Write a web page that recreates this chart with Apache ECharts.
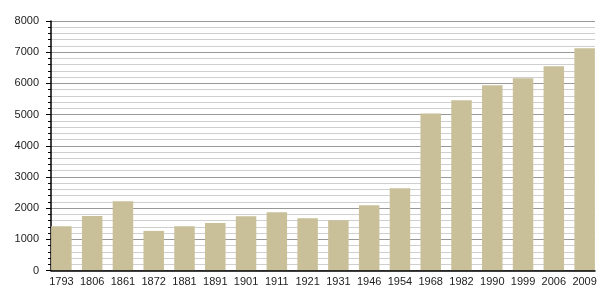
<!DOCTYPE html>
<html>
<head>
<meta charset="utf-8">
<script src="https://cdn.jsdelivr.net/npm/echarts@6/dist/echarts.min.js"></script>
<style>html,body{margin:0;padding:0;background:#fff}#c{width:605px;height:300px}</style>
</head>
<body>
<div id="c"></div>
<script>
var categories = ['1793','1806','1861','1872','1881','1891','1901','1911','1921','1931','1946','1954','1968','1982','1990','1999','2006','2009'];
var population = [1420,1750,2220,1270,1420,1526,1740,1869,1676,1612,2093,2638,5032,5458,5939,6163,6548,7125];
var yTicks = [0,1000,2000,3000,4000,5000,6000,7000,8000];

var chart = echarts.init(document.getElementById('c'));
var font = 'Liberation Sans, Arial, sans-serif';
chart.setOption({
  animation: false,
  grid: [
    {left: 46, right: 5, top: 21, height: 249.5},
    {left: 51, right: 10, top: 21, height: 249.5}
  ],
  xAxis: [
    {type: 'category', gridIndex: 0, data: categories, boundaryGap: true,
     axisLine: {show: false}, axisTick: {show: false},
     axisLabel: {color: '#222', fontSize: 11, fontFamily: font, margin: 6, interval: 0}},
    {type: 'category', gridIndex: 1, data: [''], boundaryGap: true,
     axisLine: {show: true, lineStyle: {color: '#000', width: 1.5}}, axisTick: {show: false},
     axisLabel: {show: false}, z: 5}
  ],
  yAxis: [
    {type: 'value', gridIndex: 0, min: yTicks[0], max: yTicks[yTicks.length-1], interval: 1000,
     show: false, splitLine: {show: false}},
    {type: 'value', gridIndex: 1, min: yTicks[0], max: yTicks[yTicks.length-1], interval: 1000,
     axisLine: {show: true, lineStyle: {color: '#000', width: 1.5}},
     axisTick: {show: true, length: 5, lineStyle: {color: '#000'}},
     minorTick: {show: true, splitNumber: 5, length: 3, lineStyle: {color: '#000'}},
     splitLine: {show: true, lineStyle: {color: '#999', width: 1}},
     minorSplitLine: {show: true, lineStyle: {color: '#cfcfcf', width: 1}},
     axisLabel: {color: '#222', fontSize: 11, fontFamily: font, margin: 12,
       formatter: function (v) { return String(v); }}}
  ],
  series: [
    {type: 'bar', xAxisIndex: 0, yAxisIndex: 0, data: population, barWidth: 20.5,
     itemStyle: {color: '#c9c09a'}, z: 3}
  ]
});
</script>
</body>
</html>
